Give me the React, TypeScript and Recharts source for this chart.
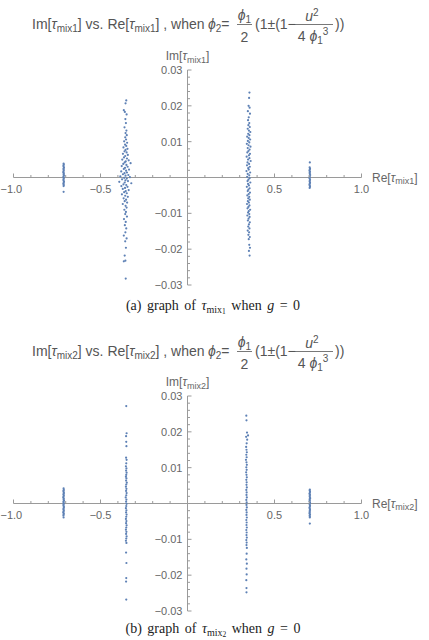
import { ScatterChart, Scatter, XAxis, YAxis, ReferenceLine } from "recharts";

// Re / Im of tau_mix1: four clusters along the real axis
const MIX1_A: [number, number][] = [
  [-0.712, 0.0039], [-0.711, 0.0036], [-0.713, 0.0033], [-0.712, 0.003], [-0.71, 0.0027],
  [-0.713, 0.0024], [-0.711, 0.0021], [-0.712, 0.0018], [-0.714, 0.0015], [-0.711, 0.0012],
  [-0.712, 0.0009], [-0.71, 0.0006], [-0.713, 0.0003], [-0.712, 0.0], [-0.711, -0.0003],
  [-0.713, -0.0006], [-0.712, -0.0009], [-0.71, -0.0012], [-0.712, -0.0015], [-0.713, -0.0018],
  [-0.711, -0.0021], [-0.712, -0.0024], [-0.712, -0.004],
];

const MIX1_B: [number, number][] = [
  [-0.352, 0.0215], [-0.356, 0.0207], [-0.366, 0.0188], [-0.36, 0.0183], [-0.35, 0.0176],
  [-0.357, 0.0163], [-0.354, 0.0152], [-0.362, 0.014], [-0.351, 0.0131], [-0.356, 0.0124],
  [-0.349, 0.0118], [-0.358, 0.0112], [-0.353, 0.0106], [-0.364, 0.0101], [-0.347, 0.0097],
  [-0.359, 0.0092], [-0.352, 0.0088], [-0.368, 0.0084], [-0.345, 0.008], [-0.356, 0.0077],
  [-0.362, 0.0073], [-0.35, 0.007], [-0.371, 0.0066], [-0.343, 0.0063], [-0.358, 0.006],
  [-0.365, 0.0056], [-0.348, 0.0053], [-0.375, 0.005], [-0.338, 0.0048], [-0.355, 0.0045],
  [-0.361, 0.0042], [-0.327, 0.004], [-0.369, 0.0038], [-0.351, 0.0035], [-0.378, 0.0032],
  [-0.344, 0.003], [-0.359, 0.0027], [-0.366, 0.0024], [-0.336, 0.0022], [-0.353, 0.0019],
  [-0.381, 0.0017], [-0.348, 0.0014], [-0.362, 0.0012], [-0.371, 0.0009], [-0.34, 0.0007],
  [-0.356, 0.0005], [-0.386, 0.0003], [-0.331, 0.0001], [-0.364, -0.0001], [-0.349, -0.0003],
  [-0.376, -0.0005], [-0.357, -0.0008], [-0.342, -0.001], [-0.392, -0.0012], [-0.361, -0.0014],
  [-0.323, -0.0016], [-0.368, -0.0019], [-0.352, -0.0021], [-0.38, -0.0024], [-0.345, -0.0026],
  [-0.359, -0.0029], [-0.372, -0.0032], [-0.338, -0.0035], [-0.355, -0.0038], [-0.364, -0.0041],
  [-0.349, -0.0044], [-0.377, -0.0047], [-0.358, -0.0051], [-0.343, -0.0054], [-0.367, -0.0058],
  [-0.353, -0.0062], [-0.361, -0.0066], [-0.347, -0.007], [-0.372, -0.0074], [-0.356, -0.0079],
  [-0.35, -0.0084], [-0.363, -0.009], [-0.354, -0.0096], [-0.358, -0.0102], [-0.348, -0.0109],
  [-0.365, -0.0116], [-0.355, -0.0124], [-0.36, -0.0133], [-0.352, -0.0142], [-0.357, -0.0153],
  [-0.366, -0.0162], [-0.35, -0.017], [-0.358, -0.0178], [-0.354, -0.0196], [-0.361, -0.0218],
  [-0.357, -0.0232], [-0.366, -0.0234], [-0.355, -0.0282],
];

const MIX1_C: [number, number][] = [
  [0.356, 0.0237], [0.354, 0.0222], [0.351, 0.02], [0.357, 0.0195], [0.347, 0.0185],
  [0.359, 0.0178], [0.352, 0.0168], [0.348, 0.016], [0.355, 0.0152], [0.35, 0.0146],
  [0.358, 0.0141], [0.346, 0.0136], [0.353, 0.0131], [0.361, 0.0127], [0.349, 0.0122],
  [0.356, 0.0118], [0.343, 0.0114], [0.352, 0.011], [0.36, 0.0106], [0.347, 0.0102],
  [0.355, 0.0098], [0.341, 0.0094], [0.351, 0.009], [0.362, 0.0086], [0.346, 0.0082],
  [0.357, 0.0078], [0.35, 0.0074], [0.344, 0.007], [0.359, 0.0066], [0.353, 0.0062],
  [0.34, 0.0058], [0.356, 0.0054], [0.348, 0.005], [0.363, 0.0046], [0.345, 0.0042],
  [0.354, 0.0038], [0.342, 0.0034], [0.358, 0.003], [0.349, 0.0026], [0.352, 0.0022],
  [0.339, 0.0018], [0.36, 0.0014], [0.346, 0.001], [0.355, 0.0006], [0.343, 0.0002],
  [0.357, -0.0002], [0.35, -0.0006], [0.345, -0.001], [0.361, -0.0014], [0.348, -0.0018],
  [0.353, -0.0022], [0.341, -0.0026], [0.357, -0.003], [0.35, -0.0034], [0.346, -0.0038],
  [0.359, -0.0042], [0.352, -0.0046], [0.344, -0.005], [0.355, -0.0054], [0.349, -0.0058],
  [0.358, -0.0062], [0.347, -0.0066], [0.353, -0.007], [0.342, -0.0074], [0.356, -0.0078],
  [0.35, -0.0082], [0.345, -0.0086], [0.36, -0.009], [0.352, -0.0094], [0.348, -0.0098],
  [0.355, -0.0102], [0.344, -0.0106], [0.357, -0.011], [0.351, -0.0115], [0.347, -0.012],
  [0.358, -0.0125], [0.353, -0.0131], [0.349, -0.0137], [0.356, -0.0142], [0.346, -0.0148],
  [0.354, -0.0153], [0.35, -0.016], [0.358, -0.0166], [0.352, -0.0172], [0.355, -0.0188],
  [0.359, -0.0196], [0.353, -0.0205], [0.357, -0.0218],
];

const MIX1_D: [number, number][] = [
  [0.703, 0.0042], [0.702, 0.0028], [0.704, 0.0025], [0.703, 0.0022], [0.701, 0.0019],
  [0.704, 0.0016], [0.702, 0.0013], [0.703, 0.001], [0.705, 0.0007], [0.702, 0.0004],
  [0.703, 0.0001], [0.701, -0.0002], [0.704, -0.0005], [0.703, -0.0008], [0.702, -0.0011],
  [0.704, -0.0014], [0.703, -0.0017], [0.701, -0.002], [0.703, -0.0023], [0.704, -0.0026],
  [0.702, -0.0029],
];

// Re / Im of tau_mix2
const MIX2_A: [number, number][] = [
  [-0.712, 0.0042], [-0.711, 0.0038], [-0.713, 0.0035], [-0.712, 0.0032], [-0.71, 0.0029],
  [-0.713, 0.0026], [-0.711, 0.0023], [-0.712, 0.002], [-0.714, 0.0017], [-0.711, 0.0014],
  [-0.712, 0.0011], [-0.71, 0.0008], [-0.713, 0.0005], [-0.712, 0.0002], [-0.711, -0.0001],
  [-0.713, -0.0004], [-0.712, -0.0007], [-0.71, -0.001], [-0.712, -0.0013], [-0.713, -0.0016],
  [-0.711, -0.0019], [-0.712, -0.0022], [-0.714, -0.0025], [-0.711, -0.0028], [-0.712, -0.0031],
  [-0.713, -0.0034], [-0.712, -0.0039],
];

const MIX2_B: [number, number][] = [
  [-0.352, 0.0272], [-0.35, 0.0196], [-0.353, 0.0188], [-0.352, 0.0172], [-0.351, 0.016],
  [-0.353, 0.0128], [-0.35, 0.0122], [-0.352, 0.0112], [-0.354, 0.0104], [-0.351, 0.0098],
  [-0.353, 0.0092], [-0.35, 0.0086], [-0.352, 0.008], [-0.354, 0.0075], [-0.351, 0.007],
  [-0.353, 0.0064], [-0.349, 0.0058], [-0.352, 0.0053], [-0.354, 0.0047], [-0.351, 0.0041],
  [-0.353, 0.0035], [-0.35, 0.0029], [-0.352, 0.0023], [-0.355, 0.0017], [-0.351, 0.0011],
  [-0.353, 0.0005], [-0.35, -0.0001], [-0.352, -0.0007], [-0.354, -0.0013], [-0.351, -0.0019],
  [-0.353, -0.0025], [-0.35, -0.0031], [-0.352, -0.0037], [-0.354, -0.0043], [-0.351, -0.0049],
  [-0.353, -0.0055], [-0.35, -0.0061], [-0.352, -0.0067], [-0.354, -0.0073], [-0.351, -0.0079],
  [-0.353, -0.0085], [-0.35, -0.0092], [-0.352, -0.0098], [-0.354, -0.0104], [-0.351, -0.011],
  [-0.353, -0.0137], [-0.351, -0.0166], [-0.352, -0.0208], [-0.353, -0.0218], [-0.352, -0.0268],
];

const MIX2_C: [number, number][] = [
  [0.338, 0.0245], [0.339, 0.0232], [0.342, 0.0198], [0.348, 0.019], [0.337, 0.0186],
  [0.343, 0.0178], [0.34, 0.0168], [0.337, 0.0158], [0.339, 0.015], [0.341, 0.0143],
  [0.338, 0.0136], [0.34, 0.0129], [0.336, 0.0122], [0.339, 0.0115], [0.341, 0.0108],
  [0.338, 0.0101], [0.34, 0.0094], [0.337, 0.0087], [0.339, 0.008], [0.341, 0.0073],
  [0.338, 0.0066], [0.34, 0.0059], [0.339, 0.0052], [0.341, 0.0045], [0.338, 0.0038],
  [0.34, 0.0031], [0.339, 0.0024], [0.341, 0.0017], [0.338, 0.001], [0.34, 0.0003],
  [0.339, -0.0004], [0.341, -0.0011], [0.338, -0.0018], [0.34, -0.0025], [0.339, -0.0032],
  [0.341, -0.0039], [0.338, -0.0046], [0.34, -0.0053], [0.339, -0.006], [0.341, -0.0067],
  [0.338, -0.0074], [0.34, -0.0081], [0.339, -0.0088], [0.341, -0.0095], [0.338, -0.0102],
  [0.34, -0.0109], [0.339, -0.0116], [0.341, -0.0124], [0.34, -0.014], [0.338, -0.0156],
  [0.341, -0.0168], [0.339, -0.0182], [0.34, -0.0198], [0.338, -0.0214], [0.339, -0.0236],
  [0.339, -0.0248],
];

const MIX2_D: [number, number][] = [
  [0.703, 0.0039], [0.702, 0.0036], [0.704, 0.0033], [0.703, 0.003], [0.701, 0.0027],
  [0.704, 0.0024], [0.702, 0.0021], [0.703, 0.0018], [0.705, 0.0015], [0.702, 0.0012],
  [0.703, 0.0009], [0.701, 0.0006], [0.704, 0.0003], [0.703, 0.0], [0.702, -0.0003],
  [0.704, -0.0006], [0.703, -0.0009], [0.701, -0.0012], [0.703, -0.0015], [0.704, -0.0018],
  [0.702, -0.0021], [0.703, -0.0024], [0.701, -0.0027], [0.704, -0.003], [0.702, -0.0033],
  [0.703, -0.0036], [0.703, -0.0039], [0.703, -0.0056],
];

const X_TICKS = [
  -1.0, -0.9, -0.8, -0.7, -0.6, -0.5, -0.4, -0.3, -0.2, -0.1,
  0.1, 0.2, 0.3, 0.4, 0.5, 0.6, 0.7, 0.8, 0.9, 1.0,
];
const X_MAJOR = [-1.0, -0.5, 0.5, 1.0];
const X_MAJOR_LABELS = ["\u22121.0", "\u22120.5", "0.5", "1.0"];

const Y_TICKS = [
  -0.03, -0.028, -0.026, -0.024, -0.022, -0.02, -0.018, -0.016, -0.014, -0.012,
  -0.01, -0.008, -0.006, -0.004, -0.002, 0.002, 0.004, 0.006, 0.008, 0.01,
  0.012, 0.014, 0.016, 0.018, 0.02, 0.022, 0.024, 0.026, 0.028, 0.03,
];
const Y_MAJOR = [0.03, 0.02, 0.01, -0.01, -0.02, -0.03];
const Y_MAJOR_LABELS = ["0.03", "0.02", "0.01", "\u22120.01", "\u22120.02", "\u22120.03"];

const W = 429;
const CHART_H = 300;
// the axes take 1px each; plot area is 13.5..361.5 by 70..285
const MARGIN = { top: 70, right: 67.5, bottom: 14, left: 12.5 };
const PLOT_LEFT = 13.5;
const PLOT_W = 348;
const PLOT_H = 215;
const ZERO_X = PLOT_LEFT + PLOT_W / 2;
const ZERO_Y = MARGIN.top + PLOT_H / 2;
const PANEL_GAP = 326;

const AXIS = "#9a9a9a";
const LABEL = "#666";
const TITLE = "#555";
const DOT = "#5E81B5";
const SANS = "'Liberation Sans', Arial, sans-serif";
const SERIF = "'Liberation Serif', 'Times New Roman', serif";

const toPoints = (...groups: [number, number][][]) =>
  groups.flat().map(([x, y]) => ({ x, y }));

const near = (a: number, b: number) => Math.abs(a - b) < 1e-9;

function XTick(props: any) {
  const { x, payload } = props;
  const i = X_MAJOR.findIndex((m) => near(m, payload.value));
  const major = i >= 0;
  // the leftmost label would run off the page, so it starts at the edge instead
  const first = i === 0;
  return (
    <g>
      <line x1={x} x2={x} y1={ZERO_Y} y2={ZERO_Y - (major ? 4 : 2.5)} stroke={AXIS} />
      {major && (
        <text
          x={first ? Math.max(0.5, x - 13) : x}
          y={ZERO_Y + 15}
          textAnchor={first ? "start" : "middle"}
          fontSize={11}
          fontFamily={SANS}
          fill={LABEL}
        >
          {X_MAJOR_LABELS[i]}
        </text>
      )}
    </g>
  );
}

function YTick(props: any) {
  const { y, payload } = props;
  const i = Y_MAJOR.findIndex((m) => near(m, payload.value));
  const major = i >= 0;
  return (
    <g>
      <line x1={ZERO_X} x2={ZERO_X + (major ? 4 : 2.5)} y1={y} y2={y} stroke={AXIS} />
      {major && (
        <text x={ZERO_X - 5} y={y + 4} textAnchor="end" fontSize={11} fontFamily={SANS} fill={LABEL}>
          {Y_MAJOR_LABELS[i]}
        </text>
      )}
    </g>
  );
}

const Dot = (p: any) => <circle cx={p.cx} cy={p.cy} r={1.1} fill={DOT} />;

function Panel({ points }: { points: { x: number; y: number }[] }) {
  return (
    <ScatterChart width={W} height={CHART_H} margin={MARGIN}>
      <XAxis
        type="number"
        dataKey="x"
        domain={[-1, 1]}
        ticks={X_TICKS}
        interval={0}
        height={1}
        axisLine={false}
        tickLine={false}
        tick={(p: any) => <XTick {...p} />}
      />
      <YAxis
        type="number"
        dataKey="y"
        domain={[-0.03, 0.03]}
        ticks={Y_TICKS}
        interval={0}
        width={1}
        axisLine={false}
        tickLine={false}
        tick={(p: any) => <YTick {...p} />}
      />
      <ReferenceLine y={0} stroke={AXIS} />
      <ReferenceLine x={0} stroke={AXIS} />
      <Scatter data={points} shape={Dot} isAnimationActive={false} />
    </ScatterChart>
  );
}

// tau with an upright "mix" subscript, used in titles and axis labels
function TauMix({ n, size }: { n: string; size: number }) {
  const s = Math.round(size * 0.72);
  return (
    <>
      <tspan fontStyle="italic">τ</tspan>
      <tspan fontSize={s} dy={size * 0.22}>mix{n}</tspan>
      <tspan dy={-size * 0.22}>]</tspan>
    </>
  );
}

function Title({ y, n }: { y: number; n: string }) {
  const t = { fontSize: 14, fontFamily: SANS, fill: TITLE };
  return (
    <g>
      <text x={32} y={y} {...t}>
        Im[<TauMix n={n} size={14} /> vs. Re[<TauMix n={n} size={14} /> , when
      </text>
      <text x={208} y={y} {...t}>
        <tspan fontStyle="italic">ϕ</tspan>
        <tspan fontSize={10} dy={3}>2</tspan>
        <tspan dy={-3}>=</tspan>
      </text>
      <text x={244.5} y={y - 9} textAnchor="middle" {...t}>
        <tspan fontStyle="italic">ϕ</tspan>
        <tspan fontSize={10} dy={3}>1</tspan>
      </text>
      <line x1={237} x2={252} y1={y - 4.5} y2={y - 4.5} stroke={TITLE} strokeWidth={0.8} />
      <text x={244.5} y={y + 13} textAnchor="middle" {...t}>2</text>
      <text x={255} y={y} {...t}>(1±(1−</text>
      <text x={312} y={y - 8} textAnchor="middle" {...t}>
        <tspan fontStyle="italic">u</tspan>
        <tspan fontSize={10} dy={-5}>2</tspan>
      </text>
      <line x1={293} x2={333} y1={y - 4.5} y2={y - 4.5} stroke={TITLE} strokeWidth={0.8} />
      <text x={313} y={y + 12} textAnchor="middle" {...t}>
        4 <tspan fontStyle="italic">ϕ</tspan>
        <tspan fontSize={10} dy={3}>1</tspan>
        <tspan fontSize={10} dy={-9}>3</tspan>
      </text>
      <text x={335} y={y} {...t}>))</text>
    </g>
  );
}

function AxisLabels({ top, n }: { top: number; n: string }) {
  const t = { fontSize: 12, fontFamily: SANS, fill: LABEL };
  return (
    <g>
      <text x={ZERO_X} y={top + MARGIN.top - 10} textAnchor="middle" {...t}>
        Im[<TauMix n={n} size={12} />
      </text>
      <text x={372} y={top + ZERO_Y + 4} {...t}>
        Re[<TauMix n={n} size={12} />
      </text>
    </g>
  );
}

function Caption({ y, tag, n }: { y: number; tag: string; n: string }) {
  return (
    <text x={213} y={y} textAnchor="middle" fontSize={14} fontFamily={SERIF} fill="#222" wordSpacing={2}>
      ({tag}) graph of <tspan fontStyle="italic">τ</tspan>
      <tspan fontSize={10} dy={2.5}>mix</tspan>
      <tspan fontSize={7.5} dy={1.5}>{n}</tspan>
      <tspan dy={-4}> when </tspan>
      <tspan fontStyle="italic">g</tspan> = 0
    </text>
  );
}

export default function App() {
  const top2 = PANEL_GAP;
  return (
    <div style={{ position: "absolute", left: 0, top: 0, width: W, height: 640, background: "#fff", overflow: "hidden" }}>
      <div style={{ position: "absolute", left: 0, top: 0 }}>
        <Panel points={toPoints(MIX1_A, MIX1_B, MIX1_C, MIX1_D)} />
      </div>
      <div style={{ position: "absolute", left: 0, top: top2 }}>
        <Panel points={toPoints(MIX2_A, MIX2_B, MIX2_C, MIX2_D)} />
      </div>
      <svg width={W} height={640} style={{ position: "absolute", left: 0, top: 0, pointerEvents: "none" }}>
        <Title y={29} n="1" />
        <AxisLabels top={0} n="1" />
        <Caption y={310} tag="a" n="1" />
        <Title y={29 + 327} n="2" />
        <AxisLabels top={top2} n="2" />
        <Caption y={633} tag="b" n="2" />
      </svg>
    </div>
  );
}
